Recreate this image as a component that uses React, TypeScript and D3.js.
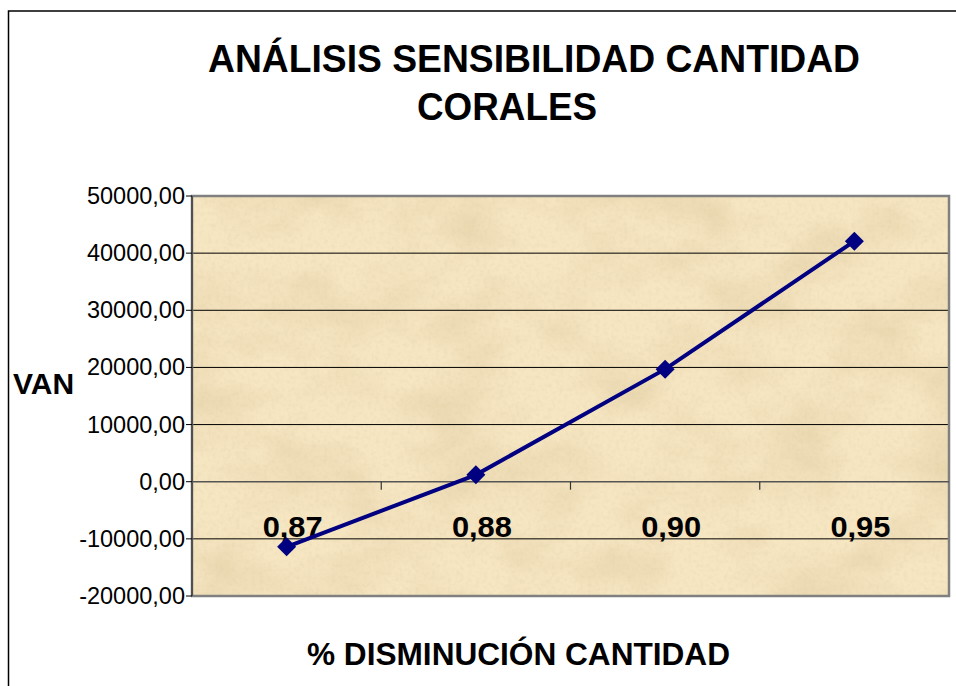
import React from "react";
import * as d3 from "d3";

const categories = ["0,87", "0,88", "0,90", "0,95"];
const vanValues = [-11400, 1200, 19700, 42100];
const yTicks = [-20000, -10000, 0, 10000, 20000, 30000, 40000, 50000];
const titleLines = ["ANÁLISIS SENSIBILIDAD CANTIDAD", "CORALES"];
const xTitle = "% DISMINUCIÓN CANTIDAD";
const yTitle = "VAN";

const W = 956;
const H = 686;
const PL = 192;
const PR = 949;
const PT = 196;
const PB = 596;

export default function App() {
  const x = d3.scaleBand<string>().domain(categories).range([PL, PR]).padding(0);
  const y = d3.scaleLinear().domain([-20000, 50000]).range([PB, PT]);
  const fmt = (v: number) => d3.format(".2f")(v).replace(".", ",").replace("\u2212", "-");
  const pts = categories.map((c, i) => [x(c)! + x.bandwidth() / 2, y(vanValues[i])] as [number, number]);
  const line = d3.line()(pts) || "";
  const y0 = y(0);
  const font = "'Liberation Sans', Arial, sans-serif";
  const ds = 9.5;

  return (
    <div style={{ position: "fixed", left: 0, top: 0, width: W, height: H, overflow: "hidden", background: "#fff" }}>
      <svg width={W} height={H} style={{ display: "block" }} fontFamily={font}>
        <defs>
          <filter id="parch" x="0" y="0" width="100%" height="100%">
            <feTurbulence type="fractalNoise" baseFrequency="0.012 0.018" numOctaves="4" seed="7" result="n" />
            <feColorMatrix in="n" type="matrix"
              values="0 0 0 0 0.62  0 0 0 0 0.48  0 0 0 0 0.25  1.6 0 0 0 -0.62" />
          </filter>
          <filter id="grain" x="0" y="0" width="100%" height="100%">
            <feTurbulence type="fractalNoise" baseFrequency="0.25" numOctaves="2" seed="3" result="g" />
            <feColorMatrix in="g" type="matrix"
              values="0 0 0 0 0.7  0 0 0 0 0.58  0 0 0 0 0.35  1.4 0 0 0 -0.6" />
          </filter>
          <clipPath id="plotclip">
            <rect x={PL} y={PT} width={PR - PL} height={PB - PT} />
          </clipPath>
        </defs>
        <rect x={0} y={0} width={W} height={H} fill="#fff" />
        <rect x={8.5} y={11} width={W + 20} height={H + 20} fill="none" stroke="#000" strokeWidth={1.5} />

        {/* title */}
        <text x={534} y={72} textAnchor="middle" fontSize={38} fontWeight="bold" textLength={652} lengthAdjust="spacingAndGlyphs">{titleLines[0]}</text>
        <text x={507} y={120} textAnchor="middle" fontSize={38} fontWeight="bold" textLength={180} lengthAdjust="spacingAndGlyphs">{titleLines[1]}</text>

        {/* plot background */}
        <rect x={PL} y={PT} width={PR - PL} height={PB - PT} fill="#f6e6c2" />
        <g clipPath="url(#plotclip)">
          <rect x={PL} y={PT} width={PR - PL} height={PB - PT} filter="url(#parch)" opacity={0.42} />
          <rect x={PL} y={PT} width={PR - PL} height={PB - PT} filter="url(#grain)" opacity={0.35} />
        </g>

        {/* gridlines */}
        {yTicks.filter((t) => t !== 0 && t !== -20000 && t !== 50000).map((t) => (
          <line key={t} x1={PL} x2={PR} y1={y(t)} y2={y(t)} stroke="#000" strokeWidth={1} />
        ))}

        {/* plot border */}
        <rect x={PL} y={PT} width={PR - PL} height={PB - PT} fill="none" stroke="#808080" strokeWidth={2.5} />
        <line x1={PL} x2={PL} y1={PT} y2={PB} stroke="#404040" strokeWidth={1.5} />

        {/* y axis ticks & labels */}
        {yTicks.map((t) => (
          <g key={t}>
            <line x1={PL - 6} x2={PL} y1={y(t)} y2={y(t)} stroke="#000" strokeWidth={1} />
            <text x={185} y={y(t) + 8} textAnchor="end" fontSize={23.5}>{fmt(t)}</text>
          </g>
        ))}

        {/* x axis at zero */}
        <line x1={PL} x2={PR} y1={y0} y2={y0} stroke="#555" strokeWidth={1.5} />
        {categories.slice(1).map((c) => (
          <line key={c} x1={x(c)!} x2={x(c)!} y1={y0} y2={y0 + 8} stroke="#333" strokeWidth={1.2} />
        ))}
        {categories.map((c) => (
          <text key={c} x={x(c)! + x.bandwidth() / 2 + 6} y={537} textAnchor="middle" fontSize={30} fontWeight="bold" textLength={60} lengthAdjust="spacingAndGlyphs">{c}</text>
        ))}

        {/* series */}
        <path d={line} fill="none" stroke="#000080" strokeWidth={4} />
        {pts.map(([px, py], i) => (
          <path key={i} d={`M${px},${py - ds}L${px + ds},${py}L${px},${py + ds}L${px - ds},${py}Z`} fill="#000080" />
        ))}

        {/* axis titles */}
        <text x={13} y={394} fontSize={30} fontWeight="bold">{yTitle}</text>
        <text x={518.5} y={665} textAnchor="middle" fontSize={31} fontWeight="bold" textLength={423} lengthAdjust="spacingAndGlyphs">{xTitle}</text>
      </svg>
    </div>
  );
}
